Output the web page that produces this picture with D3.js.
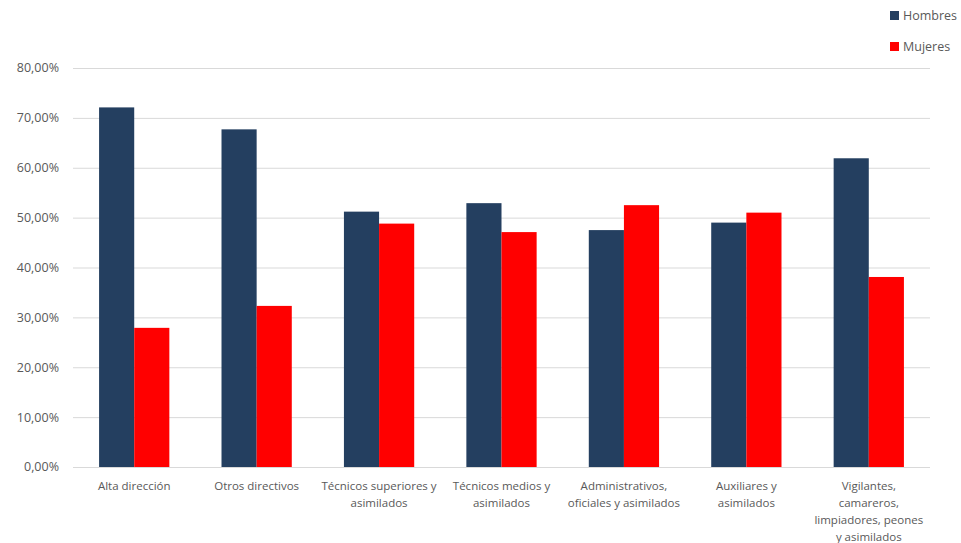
<!DOCTYPE html>
<html><head><meta charset="utf-8">
<script src="https://cdn.jsdelivr.net/npm/d3@7"></script>
<style>
body{margin:0;background:#fff;}
text{font-family:"Open Sans","Liberation Sans",sans-serif;fill:#595959;}
</style></head>
<body><svg id="c" width="961" height="543"></svg>
<script>
const categories = ["Alta dirección\n", "Otros directivos", "Técnicos superiores y\nasimilados", "Técnicos medios y\nasimilados", "Administrativos,\noficiales y asimilados", "Auxiliares y\nasimilados", "Vigilantes,\ncamareros,\nlimpiadores, peones\ny asimilados"];
const hombres = [72.1, 67.7, 51.2, 52.9, 47.5, 49.0, 61.9];
const mujeres = [27.9, 32.3, 48.8, 47.1, 52.5, 51.0, 38.1];
const seriesNames = ["Hombres", "Mujeres"];
const colors = ["#243F60", "#FF0000"];
const yTicks = [0, 10, 20, 30, 40, 50, 60, 70, 80];

const svg = d3.select("#c");
const x = d3.scaleBand().domain(d3.range(categories.length)).range([73, 930]).padding(0);
const y = d3.scaleLinear().domain([0, 80]).range([467, 68]);
const bw = x.bandwidth() * 0.287;

// gridlines
svg.append("g").selectAll("line").data(yTicks).join("line")
  .attr("x1", 73).attr("x2", 930)
  .attr("y1", d => y(d) + 0.5).attr("y2", d => y(d) + 0.5)
  .attr("stroke", "#d9d9d9").attr("stroke-width", 1);

// y labels
svg.append("g").selectAll("text").data(yTicks).join("text")
  .attr("x", 59).attr("y", d => y(d)).attr("dy", "0.35em")
  .attr("text-anchor", "end").attr("font-size", 12.5)
  .text(d => d.toFixed(2).replace(".", ",") + "%");

const data = [hombres, mujeres];
data.forEach((vals, s) => {
  svg.append("g").selectAll("rect").data(vals).join("rect")
    .attr("x", (d, i) => x(i) + x.bandwidth() / 2 - bw + s * bw)
    .attr("width", bw)
    .attr("y", d => y(d))
    .attr("height", d => y(0) - y(d))
    .attr("fill", colors[s]);
});

// category labels
const cl = svg.append("g");
categories.forEach((c, i) => {
  const lines = c.split("\n").filter(l => l.length);
  const t = cl.append("text").attr("text-anchor", "middle").attr("font-size", 11.5)
    .attr("x", x(i) + x.bandwidth() / 2).attr("y", 490);
  lines.forEach((l, j) => t.append("tspan").attr("x", x(i) + x.bandwidth() / 2).attr("dy", j ? 17 : 0).text(l));
});

// legend
const lg = svg.append("g");
seriesNames.forEach((n, i) => {
  lg.append("rect").attr("x", 890).attr("y", 11 + i * 31).attr("width", 9).attr("height", 9).attr("fill", colors[i]);
  lg.append("text").attr("x", 903).attr("y", 16 + i * 31).attr("dy", "0.35em").attr("font-size", 12.5).text(n);
});
</script></body></html>
